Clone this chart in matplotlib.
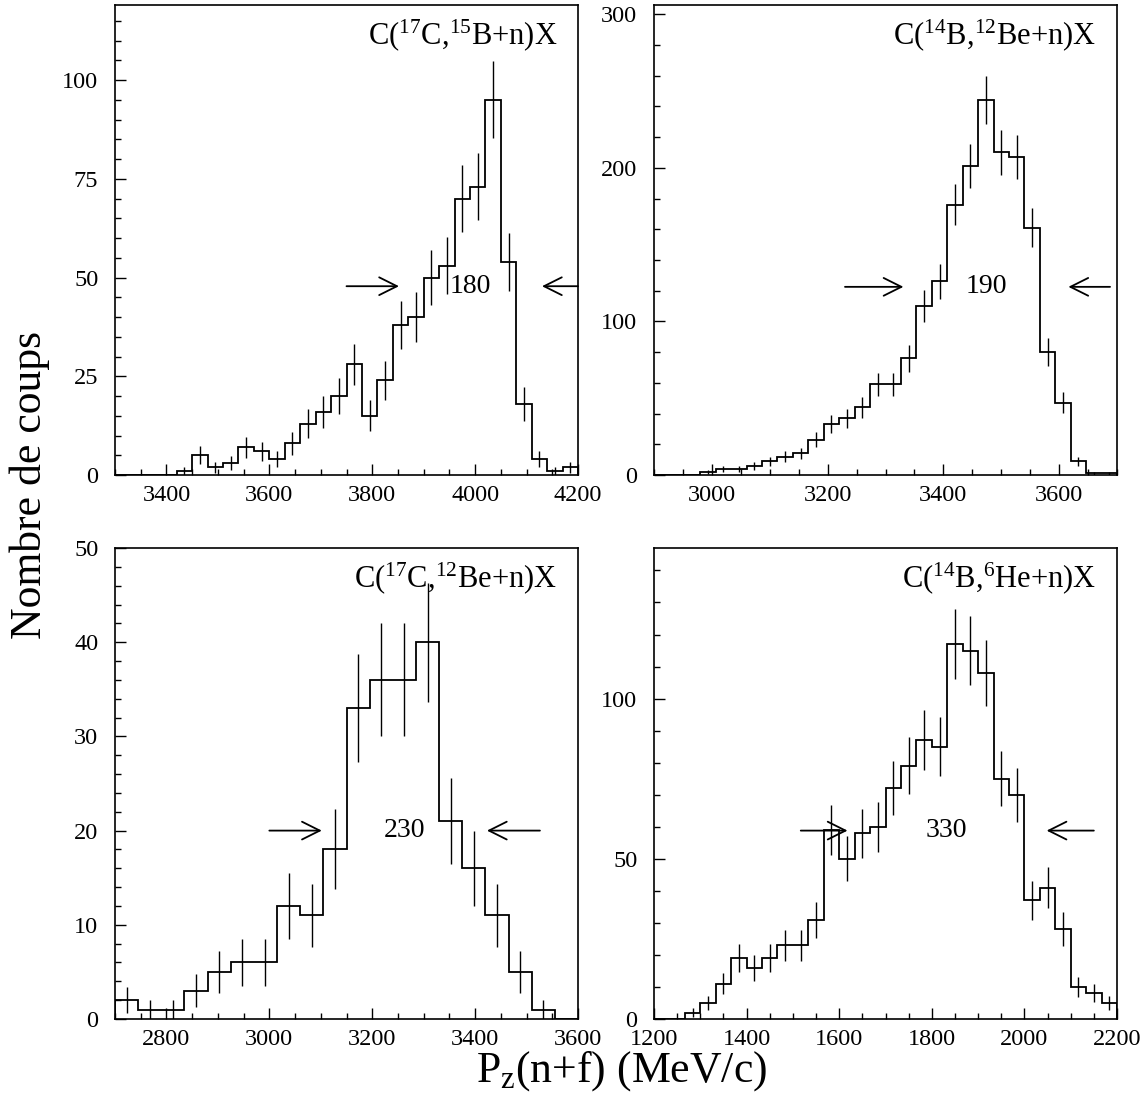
import numpy as np
import matplotlib
matplotlib.use("Agg")
import matplotlib.pyplot as plt
from matplotlib.ticker import MultipleLocator

plt.rcParams['font.family'] = ['Liberation Serif', 'DejaVu Serif']
plt.rcParams['mathtext.fontset'] = 'custom'
plt.rcParams['mathtext.rm'] = 'Liberation Serif'

# ---- data (counts per bin, 30/30/20/30 bins over the axis ranges) ----
p1_range = (3300, 4200)
p1_counts = [0, 0, 0, 0, 1, 5, 2, 3, 7, 6, 4, 8, 13, 16, 20, 28, 15, 24, 38, 40,
             50, 53, 70, 73, 95, 54, 18, 4, 1, 2]
p1_title = r'C($\mathregular{^{17}}$C,$\mathregular{^{15}}$B+n)X'
p1_width = "180"

p2_range = (2900, 3700)
p2_counts = [0, 0, 0, 2, 4, 4, 6, 9, 12, 14, 23, 33, 37, 44, 59, 59, 76, 110, 126, 176,
             201, 244, 210, 207, 161, 80, 47, 9, 1, 1]
p2_title = r'C($\mathregular{^{14}}$B,$\mathregular{^{12}}$Be+n)X'
p2_width = "190"

p3_range = (2700, 3600)
p3_counts = [2, 1, 1, 3, 5, 6, 6, 12, 11, 18, 33, 36, 36, 40, 21, 16, 11, 5, 1, 0]
p3_title = r'C($\mathregular{^{17}}$C,$\mathregular{^{12}}$Be+n)X'
p3_width = "230"

p4_range = (1200, 2200)
p4_counts = [0, 0, 2, 5, 11, 19, 16, 19, 23, 23, 31, 59, 50, 58, 60, 72, 79, 87, 85, 117,
             115, 108, 75, 70, 37, 41, 28, 10, 8, 5]
p4_title = r'C($\mathregular{^{14}}$B,$\mathregular{^{6}}$He+n)X'
p4_width = "330"

# arrow annotations: (right-arrow tail, right-arrow head, left-arrow head, left-arrow tail, y, text x)
p1_arrows = (3750, 3852, 4130, 4200, 47.8, 3990)
p2_arrows = (3230, 3331, 3616, 3688, 122.5, 3474)
p3_arrows = (3000, 3102, 3423, 3526, 20.0, 3262)
p4_arrows = (1517, 1618, 2048, 2150, 58.8, 1831)

panels = [
    dict(rng=p1_range, counts=p1_counts, title=p1_title, w=p1_width, arr=p1_arrows,
         ylim=(0, 119), ymaj=25, ymin=5, xticks=[3400, 3600, 3800, 4000, 4200],
         rect=[115, 5, 463, 470]),
    dict(rng=p2_range, counts=p2_counts, title=p2_title, w=p2_width, arr=p2_arrows,
         ylim=(0, 306), ymaj=100, ymin=20, xticks=[3000, 3200, 3400, 3600],
         rect=[654, 5, 463, 470]),
    dict(rng=p3_range, counts=p3_counts, title=p3_title, w=p3_width, arr=p3_arrows,
         ylim=(0, 50), ymaj=10, ymin=2, xticks=[2800, 3000, 3200, 3400, 3600],
         rect=[115, 548, 463, 471]),
    dict(rng=p4_range, counts=p4_counts, title=p4_title, w=p4_width, arr=p4_arrows,
         ylim=(0, 147), ymaj=50, ymin=10, xticks=[1200, 1400, 1600, 1800, 2000, 2200],
         rect=[654, 548, 463, 471]),
]

W, H = 1146, 1101
fig = plt.figure(figsize=(W / 100, H / 100), dpi=100)

for p in panels:
    l, t, w, h = p['rect']
    ax = fig.add_axes([l / W, 1 - (t + h) / H, w / W, h / H])
    counts = np.array(p['counts'], dtype=float)
    edges = np.linspace(p['rng'][0], p['rng'][1], len(counts) + 1)
    centers = 0.5 * (edges[:-1] + edges[1:])
    ax.stairs(counts, edges, color='black', lw=1.3, baseline=0)
    nz = counts > 0
    ax.errorbar(centers[nz], counts[nz], yerr=np.sqrt(counts[nz]), fmt='none',
                ecolor='black', elinewidth=1.0, capsize=0)
    ax.set_xlim(*p['rng'])
    ax.set_ylim(*p['ylim'])
    ax.set_xticks(p['xticks'])
    ax.xaxis.set_minor_locator(MultipleLocator(50))
    ax.yaxis.set_major_locator(MultipleLocator(p['ymaj']))
    ax.yaxis.set_minor_locator(MultipleLocator(p['ymin']))
    ax.tick_params(which='both', direction='in', top=False, right=False, width=1.0)
    ax.tick_params(which='major', length=8, labelsize=17.5)
    ax.tick_params(which='minor', length=4)
    ax.tick_params(axis='x', which='major', pad=7)
    ax.tick_params(axis='y', which='major', pad=12)
    for s in ax.spines.values():
        s.set_linewidth(1.2)
    ax.text(0.955, 0.935, p['title'], transform=ax.transAxes, ha='right', va='center',
            fontsize=22)
    rt, rh, lh, lt, ya, tx = p['arr']
    ap = dict(arrowstyle='->', lw=1.3, mutation_scale=32, shrinkA=0, shrinkB=0, color='black')
    ax.annotate('', xy=(rh, ya), xytext=(rt, ya), arrowprops=ap, annotation_clip=False)
    ax.annotate('', xy=(lh, ya), xytext=(lt, ya), arrowprops=ap, annotation_clip=False)
    ax.text(tx, ya, p['w'], ha='center', va='center', fontsize=20)

fig.text(30 / W, 1 - 485 / H, 'Nombre de coups', rotation=90, ha='center', va='center',
         fontsize=31.5)
fig.text(622 / W, 1 - 1071 / H, r'P$\mathregular{_z}$(n+f) (MeV/c)', ha='center',
         va='center', fontsize=31.5)

fig.savefig('out.png', dpi=100)
